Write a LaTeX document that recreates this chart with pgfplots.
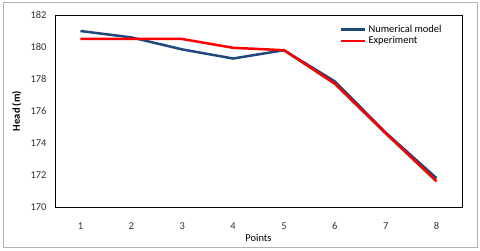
\documentclass[border=0pt]{standalone}
\usepackage{pgfplots}
\pgfplotsset{compat=1.18}
\usepackage{fontspec}
\setmainfont{Carlito}
\definecolor{navy}{RGB}{31,73,125}
\begin{document}
\begin{tikzpicture}[x=1bp,y=1bp]
\path[use as bounding box] (0,0) rectangle (480,250);
\draw[gray!60, line width=1bp] (3,3) rectangle (477,247);
\begin{axis}[
  at={(55bp,43bp)}, anchor=south west,
  scale only axis, width=407bp, height=192bp,
  xmin=0.5, xmax=8.5, ymin=170, ymax=182,
  xtick={1,...,8}, ytick={170,172,...,182},
  major tick length=0pt,
  axis line style={black, line width=0.8bp},
  tick label style={font=\fontsize{10.5}{12}\selectfont, text=black!80},
  /pgf/number format/assume math mode=true,
  /pgf/number format/1000 sep={},
  yticklabel style={xshift=-5bp},
  xticklabel style={yshift=-12bp},
  xlabel={Points}, ylabel={\textbf{Head (m)}},
  label style={font=\fontsize{10.5}{12}\selectfont},
  xlabel style={at={(axis description cs:0.5,0)}, anchor=north, yshift=-24bp},
  ylabel style={at={(axis description cs:0,0.5)}, anchor=south, yshift=30bp},
  legend style={draw=none, fill=none, at={(0.955,0.97)}, anchor=north east,
    font=\fontsize{10.5}{12}\selectfont, row sep=-1bp,
    legend cell align=left, inner xsep=0pt},
  legend image code/.code={\draw[#1, line width=2.5bp] (0cm,0cm) -- (0.85cm,0cm);},
]
\addplot[navy, line width=2.5bp] coordinates {
(1,181.0) (2,180.6) (3,179.85) (4,179.28) (5,179.8) (6,177.85) (7,174.65) (8,171.8)};
\addlegendentry{Numerical model}
\addplot[red, line width=2.5bp] coordinates {
(1,180.5) (2,180.5) (3,180.5) (4,179.95) (5,179.8) (6,177.7) (7,174.6) (8,171.6)};
\addlegendentry{Experiment}
\end{axis}
\end{tikzpicture}
\end{document}
